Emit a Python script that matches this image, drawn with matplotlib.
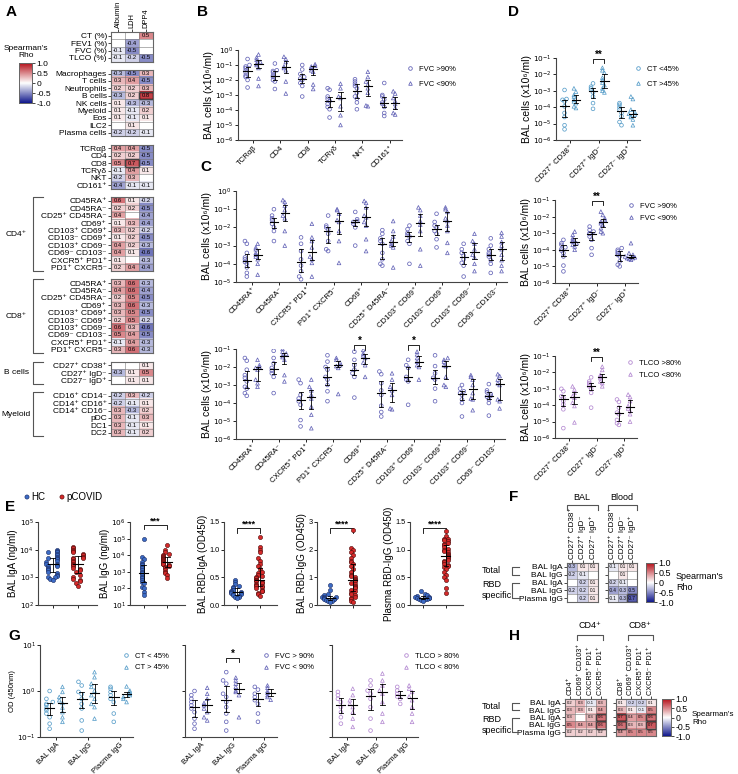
import numpy as np
import matplotlib
matplotlib.use('Agg')
import matplotlib.pyplot as plt
from matplotlib.colors import LinearSegmentedColormap
from matplotlib.patches import Rectangle
from matplotlib.lines import Line2D
from matplotlib.ticker import NullLocator

plt.rcParams['font.family'] = ['Liberation Sans', 'DejaVu Sans']
plt.rcParams['font.size'] = 5.5
plt.rcParams['axes.linewidth'] = 0.7

nan = np.nan

#====================== data ======================
# panel A (columns Albumin, LDH, DPP4)
a_cols = ['Albumin', 'LDH', 'DPP4']
a_clin_rows = ['CT (%)', 'FEV1 (%)', 'FVC (%)', 'TLCO (%)']
a_clin = [[nan, nan, 0.5], [nan, -0.4, nan], [-0.1, -0.5, nan], [-0.1, -0.2, -0.5]]
a_cell_rows = ['Macrophages', 'T cells', 'Neutrophils', 'B cells', 'NK cells', 'Myeloid', 'Eos', 'ILC2', 'Plasma cells']
a_cell = [[-0.3, -0.5, 0.3], [0.3, 0.4, -0.5], [0.2, 0.2, 0.3], [-0.3, 0.2, 0.8], [0.1, -0.3, -0.3],
          [0.1, -0.1, 0.2], [0.1, -0.1, 0.1], [nan, 0.1, nan], [-0.2, -0.2, -0.1]]
a_t_rows = ['TCRαβ', 'CD4', 'CD8', 'TCRγδ', 'NKT', 'CD161⁺']
a_t = [[0.4, 0.4, -0.5], [0.2, 0.2, -0.5], [0.5, 0.7, -0.5], [-0.1, 0.4, 0.1], [-0.2, 0.3, nan], [-0.4, -0.1, -0.1]]
a_sub_rows = ['CD45RA⁺', 'CD45RA⁻', 'CD25⁺ CD45RA⁻', 'CD69⁺', 'CD103⁺ CD69⁺', 'CD103⁻ CD69⁺',
              'CD103⁺ CD69⁻', 'CD69⁻ CD103⁻', 'CXCR5⁺ PD1⁺', 'PD1⁺ CXCR5⁻']
a_cd4 = [[0.6, 0.1, -0.2], [0.2, 0.2, -0.5], [0.4, nan, -0.4], [0.1, 0.3, -0.4], [0.3, 0.2, -0.2],
         [0.1, 0.2, -0.5], [0.4, 0.2, -0.3], [0.4, 0.1, -0.6], [0.1, nan, -0.3], [0.2, 0.4, -0.4]]
a_cd8 = [[0.3, 0.6, -0.3], [0.4, 0.6, -0.4], [0.2, 0.5, -0.5], [0.3, 0.6, -0.3], [0.3, 0.5, -0.5],
         [0.2, 0.5, -0.2], [0.6, 0.3, -0.6], [0.5, 0.4, -0.5], [-0.1, 0.4, -0.3], [0.3, 0.6, -0.3]]
a_b_rows = ['CD27⁺ CD38⁺', 'CD27⁺ IgD⁻', 'CD27⁻ IgD⁺']
a_b = [[nan, nan, 0.1], [-0.3, 0.1, 0.5], [nan, 0.1, 0.1]]
a_my_rows = ['CD16⁺ CD14⁻', 'CD14⁺ CD16⁺', 'CD14⁺ CD16⁻', 'pDC', 'DC1', 'DC2']
a_my = [[-0.2, 0.3, -0.2], [-0.2, -0.1, 0.1], [0.3, -0.3, 0.2], [0.3, -0.1, 0.3], [0.3, -0.1, 0.1], [0.3, -0.1, 0.2]]

# panel B (log10 BAL cells)
b_cats = ['TCRαβ', 'CD4', 'CD8', 'TCRγδ', 'NKT', 'CD161⁺']
b_fvc_hi = [[-0.6, -1.0, -1.1, -1.2, -1.35, -1.5, -1.7, -1.8, -2.0, -2.5],
            [-0.9, -1.35, -1.4, -1.5, -1.7, -1.8, -2.0, -2.1, -2.6],
            [-1.0, -1.3, -1.6, -1.8, -1.9, -2.0, -2.2, -2.4, -3.1],
            [-2.55, -2.65, -3.1, -3.25, -3.4, -3.6, -3.8, -3.95, -4.5],
            [-1.95, -2.1, -2.25, -2.4, -2.55, -2.85, -3.1, -3.25, -3.5, -3.95],
            [-2.2, -3.0, -3.1, -3.3, -3.5, -3.6, -3.8, -4.2, -4.4]]
b_fvc_lo = [[-0.3, -0.5, -0.65, -0.8, -0.9, -1.0, -1.2, -1.9, -2.4],
            [-0.45, -0.6, -0.8, -1.1, -1.2, -1.35, -2.1, -2.9],
            [-0.95, -1.05, -1.1, -1.2, -1.35, -1.45, -2.3, -2.6],
            [-2.25, -2.55, -3.1, -3.2, -3.75, -4.35, -5.0],
            [-1.45, -1.8, -2.1, -2.3, -2.55, -2.85, -3.7, -3.75],
            [-2.75, -2.9, -3.2, -3.4, -3.6, -3.85, -4.2, -4.3]]

# panel C (log10 BAL cells), CD4+ (top) and CD8+ (bottom)
c_cats = ['CD45RA⁺', 'CD45RA⁻', 'CXCR5⁺ PD1⁺', 'PD1⁺ CXCR5⁻', 'CD69⁺', 'CD25⁺ D45RA⁻',
          'CD103⁺ CD69⁺', 'CD103⁻ CD69⁺', 'CD103⁺ CD69⁻', 'CD69⁻ CD103⁻']
c4_hi = [[-2.75, -2.9, -3.4, -3.65, -3.75, -3.9, -4.0, -4.2, -4.5, -4.7],
         [-1.0, -1.35, -1.5, -1.6, -1.8, -2.0, -2.2, -2.75],
         [-2.55, -2.9, -3.3, -3.75, -4.1, -4.4, -4.7, -4.85],
         [-1.35, -1.9, -2.0, -2.1, -2.35, -2.75, -3.2, -3.3],
         [-1.15, -1.55, -1.65, -1.7, -1.8, -2.0, -3.0],
         [-2.15, -2.35, -2.6, -2.75, -2.9, -3.4, -3.75, -4.0, -4.1],
         [-1.9, -2.1, -2.3, -2.4, -2.5, -2.75, -2.9, -4.0],
         [-1.25, -1.7, -1.9, -2.0, -2.2, -2.35, -2.65, -3.1],
         [-2.9, -3.2, -3.4, -3.55, -3.75, -3.95, -4.1, -4.7],
         [-2.6, -3.0, -3.2, -3.4, -3.5, -3.6, -3.8, -4.0, -4.5]]
c4_lo = [[-2.9, -3.1, -3.2, -3.4, -3.5, -3.6, -3.75, -4.0, -4.6],
         [-0.5, -0.6, -0.8, -1.05, -1.35, -1.5, -2.2, -3.0],
         [-1.8, -2.55, -2.75, -3.1, -3.6, -3.75, -3.95, -4.7],
         [-1.0, -1.05, -1.25, -1.6, -1.7, -2.2, -2.75, -3.95],
         [-0.55, -0.65, -0.9, -1.35, -1.45, -1.7, -1.9, -2.65, -3.3],
         [-1.65, -2.2, -2.5, -2.75, -2.9, -3.0, -3.1, -4.2],
         [-0.9, -1.05, -1.35, -1.65, -1.85, -2.2, -3.2, -4.1],
         [-0.9, -1.0, -1.15, -1.5, -1.65, -1.9, -2.2, -2.85, -3.4],
         [-2.35, -2.75, -2.9, -3.2, -3.5, -3.65, -4.0, -4.4],
         [-2.3, -2.5, -2.8, -3.0, -3.2, -3.5, -3.8, -4.1, -4.4]]
c8_hi = [[-1.5, -1.65, -2.15, -2.45, -2.6, -2.8, -3.1, -3.2, -3.45, -3.6],
         [-1.1, -1.5, -1.8, -2.05, -2.2, -2.35, -2.55, -3.45],
         [-2.7, -2.9, -3.55, -3.75, -3.9, -4.1, -4.95, -5.3],
         [-1.35, -1.7, -2.0, -2.15, -2.55, -2.7, -3.0, -3.35, -3.9],
         [-1.15, -1.6, -1.9, -2.15, -2.35, -2.55, -3.7],
         [-2.25, -2.4, -2.9, -3.3, -3.55, -4.15, -4.5, -4.75],
         [-1.6, -1.9, -2.05, -2.55, -2.7, -2.8, -4.1],
         [-1.35, -1.95, -2.35, -2.6, -2.7, -3.2, -3.9],
         [-3.0, -3.2, -3.35, -3.45, -3.55, -3.8, -4.0, -4.75],
         [-2.95, -3.3, -3.4, -3.5, -3.6, -3.65, -3.8, -4.0, -4.7]]
c8_lo = [[-1.6, -1.9, -2.0, -2.05, -2.15, -2.7, -2.9, -3.1],
         [-1.0, -1.15, -1.25, -1.35, -1.45, -1.6, -2.45, -2.8],
         [-2.7, -3.1, -3.3, -3.55, -3.75, -4.2, -4.65, -5.4],
         [-1.5, -1.6, -1.75, -1.9, -1.95, -2.05, -3.5],
         [-1.05, -1.25, -1.35, -1.5, -1.75, -1.9, -2.55],
         [-2.35, -2.7, -3.1, -3.3, -3.55, -4.3, -4.35],
         [-1.15, -1.3, -1.5, -1.7, -1.9, -2.0, -2.7],
         [-1.5, -1.6, -1.7, -1.9, -1.95, -2.55, -3.0, -3.1],
         [-2.45, -2.55, -2.7, -3.0, -3.45, -3.75, -3.8, -4.4],
         [-2.4, -2.5, -2.7, -2.9, -3.0, -3.8, -3.9, -4.3]]

# panel D (log10 BAL cells)
d_cats = ['CD27⁺ CD38⁺', 'CD27⁺ IgD⁻', 'CD27⁻ IgD⁺']
d_ct_lo = [[-2.95, -3.5, -3.55, -3.65, -3.95, -4.35, -4.6, -5.1, -5.35],
           [-2.55, -2.75, -2.85, -2.95, -3.1, -3.35, -3.75, -4.1],
           [-3.75, -3.85, -4.0, -4.15, -4.35, -4.55, -4.9, -5.1]]
d_ct_hi = [[-2.85, -3.05, -3.25, -3.35, -3.55, -3.65, -3.75, -3.95, -4.05],
           [-1.6, -1.75, -1.9, -2.2, -2.35, -2.5, -2.65, -2.85, -3.0, -3.1],
           [-3.35, -3.5, -4.15, -4.3, -4.4, -4.45, -4.55, -4.6, -4.75, -5.1]]
d_fvc_hi = [[-3.4, -3.6, -3.7, -3.85, -3.95, -4.05, -4.2, -4.4, -4.95, -5.3],
            [-2.6, -2.8, -2.9, -3.0, -3.05, -3.2, -3.4, -3.9, -4.3],
            [-3.9, -4.0, -4.1, -4.2, -4.3, -4.4, -4.7, -4.9, -5.0]]
d_fvc_lo = [[-2.9, -3.1, -3.3, -3.4, -3.5, -3.6, -3.7, -3.8, -4.0],
            [-1.7, -1.9, -2.1, -2.2, -2.3, -2.4, -2.5, -2.7, -2.9, -3.0],
            [-3.6, -4.2, -4.3, -4.4, -4.45, -4.5, -4.5, -4.55, -4.6]]
d_tlco_hi = [[-3.0, -3.15, -3.45, -3.55, -3.75, -3.95, -4.25, -5.4],
             [-2.3, -2.55, -2.65, -2.75, -2.85, -3.0, -3.25, -4.15],
             [-3.65, -3.8, -4.15, -4.45, -4.55, -4.9, -5.1, -5.2]]
d_tlco_lo = [[-2.85, -3.05, -3.25, -3.45, -3.55, -3.85, -4.05, -5.05],
             [-1.65, -1.85, -2.15, -2.25, -2.35, -2.55, -2.65, -2.85],
             [-3.35, -3.5, -3.75, -4.05, -4.2, -4.35, -4.55, -5.0]]

# panel E (HC vs pCOVID)
e_iga_hc = [4.0, 3.95, 3.9, 3.9, 3.85, 3.8, 3.75, 3.7, 3.7, 3.65, 3.6, 3.55, 3.5, 3.5, 3.45,
            3.4, 3.4, 3.35, 3.3, 3.25, 3.2, 3.15, 3.1, 3.05, 3.0, 3.0, 2.95, 2.9]
e_iga_pc = [4.1, 4.05, 4.0, 3.95, 3.9, 3.85, 3.8, 3.75, 3.7, 3.7, 3.65, 3.6, 3.55, 3.5,
            3.45, 3.4, 3.35, 3.3, 3.25, 3.2, 3.1, 3.0, 2.95, 2.9, 2.85, 2.8, 2.7]
e_igg_hc = [5.0, 3.9, 3.8, 3.6, 3.5, 3.4, 3.3, 3.2, 3.1, 3.0, 2.9, 2.8, 2.7, 2.6, 2.5, 2.4,
            2.3, 2.1, 2.0, 1.8, 1.6]
e_igg_pc = [4.6, 4.3, 4.2, 4.1, 4.0, 3.95, 3.9, 3.85, 3.8, 3.75, 3.7, 3.65, 3.6, 3.55, 3.5,
            3.45, 3.4, 3.35, 3.3, 3.2, 3.1, 3.0, 2.9, 2.8, 2.6]
e_rbda_hc = [0.45, 0.42, 0.38, 0.35, 0.32, 0.3, 0.28, 0.27, 0.25, 0.24, 0.23, 0.22, 0.21,
             0.2, 0.19, 0.18, 0.17, 0.15, 0.14, 0.12]
e_rbda_pc = [1.22, 1.05, 1.0, 0.95, 0.85, 0.8, 0.75, 0.7, 0.65, 0.6, 0.58, 0.55, 0.52, 0.5,
             0.48, 0.46, 0.45, 0.43, 0.42, 0.4, 0.38, 0.36, 0.35, 0.34, 0.32, 0.3, 0.28,
             0.26, 0.25, 0.22, 0.2, 0.16]
e_rbdg_hc = [0.72, 0.55, 0.4, 0.35, 0.3, 0.3, 0.28, 0.27, 0.25, 0.23, 0.22, 0.2, 0.18,
             0.16, 0.15, 0.12]
e_rbdg_pc = [2.72, 2.05, 2.0, 1.9, 1.8, 1.7, 1.6, 1.55, 1.5, 1.4, 1.3, 1.2, 1.1, 1.05, 1.0,
             0.95, 0.9, 0.85, 0.8, 0.75, 0.7, 0.65, 0.6, 0.55, 0.5, 0.45, 0.4, 0.35, 0.3,
             0.25, 0.2, 0.15, 0.1]
e_prbd_hc = [0.25, 0.2, 0.18, 0.16, 0.15, 0.14, 0.13, 0.12, 0.12, 0.11, 0.1, 0.1, 0.09, 0.08]
e_prbd_pc = [1.33, 1.25, 1.2, 1.2, 1.18, 1.15, 1.12, 1.1, 1.08, 1.05, 1.02, 1.0, 0.98, 0.95,
             0.92, 0.9, 0.88, 0.86, 0.85, 0.82, 0.8, 0.78, 0.75, 0.72, 0.7, 0.68, 0.65,
             0.6, 0.55, 0.5, 0.45, 0.3, 0.22]

# panel F / H heatmaps
f_rows = ['BAL IgA', 'BAL IgG', 'BAL IgA', 'BAL IgG', 'Plasma IgG']
f_cols = ['CD27⁺ CD38⁺', 'CD27⁺ IgD⁻', 'CD27⁻ IgD⁺']
f_bal = [[-0.3, 0.1, 0.1], [-0.2, -0.1, nan], [nan, -0.2, 0.1], [-0.2, -0.2, 0.1], [nan, -0.2, 0.1]]
f_blood = [[-0.1, 0.1, 0.1], [nan, 0.1, nan], [-0.2, -0.1, nan], [-0.4, -0.3, -0.5], [-0.1, -0.3, -0.7]]
h_cols4 = ['CD4⁺', 'CD69⁺ CD103⁺', 'CXCR5⁺ PD1⁺', 'CXCR5⁻ PD1⁺']
h_cols8 = ['CD8⁺', 'CD69⁺ CD103⁺', 'CXCR5⁺ PD1⁺', 'CXCR5⁻ PD1⁺']
h_cd4 = [[0.2, 0.3, -0.1, 0.3], [0.3, 0.3, 0.1, 0.4], [0.3, nan, 0.3, 0.6], [0.5, 0.4, 0.4, 0.6], [0.2, 0.2, 0.2, 0.2]]
h_cd8 = [[0.1, -0.2, -0.2, 0.1], [0.3, 0.1, -0.1, 0.5], [0.7, 0.4, 0.5, 0.6], [0.6, 0.3, 0.3, 0.7], [0.4, 0.5, 0.5, 0.5]]

# panel G (log10 OD450)
g_cats = ['BAL IgA', 'BAL IgG', 'Plasma IgG']
g_ct_lo = [[0.0, -0.17, -0.24, -0.28, -0.31, -0.38, -0.42, -0.49, -0.57, -0.71, -0.82],
           [0.2, 0.12, -0.02, -0.07, -0.17, -0.28, -0.38, -0.64, -0.86],
           [0.09, 0.05, -0.02, -0.09, -0.17, -0.24, -0.49, -0.67]]
g_ct_hi = [[0.09, -0.02, -0.13, -0.2, -0.26, -0.36, -0.46, -0.57, -0.67],
           [0.41, 0.3, 0.16, 0.09, 0.01, -0.09, -0.17, -0.28, -0.35, -0.6],
           [0.1, 0.01, -0.02, -0.06, -0.09, -0.13, -0.17, -0.24]]
g_fvc_hi = [[0.0, -0.09, -0.17, -0.24, -0.31, -0.38, -0.46, -0.6, -0.71, -0.82],
            [0.41, 0.23, 0.16, -0.06, -0.13, -0.24, -0.35, -0.49, -0.67, -0.86],
            [0.09, 0.03, -0.06, -0.13, -0.2, -0.28, -0.49, -0.67]]
g_fvc_lo = [[0.07, -0.06, -0.17, -0.26, -0.31, -0.38, -0.46, -0.57, -0.64],
            [0.29, 0.23, 0.16, 0.09, 0.01, -0.02, -0.09, -0.57],
            [0.12, 0.07, 0.0, -0.04, -0.09, -0.13, -0.19]]
g_tlco_hi = [[-0.02, -0.09, -0.17, -0.24, -0.35, -0.46, -0.57, -0.71],
             [0.23, 0.12, 0.01, -0.06, -0.17, -0.35, -0.6, -0.86],
             [0.09, 0.01, -0.06, -0.12, -0.17, -0.28]]
g_tlco_lo = [[0.05, -0.09, -0.2, -0.28, -0.35, -0.46, -0.6, -0.78],
             [0.38, 0.23, 0.12, 0.01, -0.06, -0.24, -0.49, -0.67],
             [0.12, 0.05, -0.02, -0.12, -0.2, -0.35, -0.49, -0.67]]

c_ct = '#5a9fca'
c_fvc = '#6666b8'
c_tlco = '#b58bd2'
c_hc = '#3c6cc6'
c_pc = '#d62a2a'

#==================================================
W, H = 738, 774
fig = plt.figure(figsize=(W / 100, H / 100), dpi=100)
cmap = LinearSegmentedColormap.from_list('rho', ['#10188c', '#ffffff', '#b5121b'])
cmap.set_bad('white')


def box(x0, y0, x1, y1):
    return fig.add_axes([x0 / W, 1 - y1 / H, (x1 - x0) / W, (y1 - y0) / H])


def ftext(x, y, s, **kw):
    fig.text(x / W, 1 - y / H, s, **kw)


def fline(xs, ys, **kw):
    fig.add_artist(Line2D([x / W for x in xs], [1 - y / H for y in ys], **kw))


def heat(x0, y0, x1, y1, vals, rows, cols=None, bold=(), fs=4.2, rfs=6.0, cfs=None):
    ax = box(x0, y0, x1, y1)
    v = np.array(vals, float)
    ax.imshow(np.ma.masked_invalid(v), cmap=cmap, vmin=-1, vmax=1, aspect='auto',
              interpolation='nearest')
    n, m = v.shape
    for i in range(n):
        for j in range(m):
            if not np.isnan(v[i, j]):
                ax.text(j, i, f'{v[i, j]:.1f}', ha='center', va='center', fontsize=fs)
    ax.set_xticks(np.arange(-0.5, m), minor=True)
    ax.set_yticks(np.arange(-0.5, n), minor=True)
    ax.grid(which='minor', color='#777777', lw=0.4)
    ax.tick_params(which='minor', length=0)
    ax.set_yticks(range(n))
    ax.set_yticklabels(rows, fontsize=rfs)
    if cols:
        ax.xaxis.tick_top()
        ax.set_xticks(range(m))
        ax.set_xticklabels(cols, rotation=90, fontsize=cfs or rfs)
    else:
        ax.set_xticks([])
    ax.tick_params(length=2, width=0.5, pad=1)
    for (i, j) in bold:
        ax.add_patch(Rectangle((j - 0.5, i - 0.5), 1, 1, fill=False, ec='k', lw=1.0))
    for s in ax.spines.values():
        s.set_color('#666666')
        s.set_linewidth(0.8)
    return ax


def cbar(x0, y0, x1, y1, fs=6):
    ax = box(x0, y0, x1, y1)
    ax.imshow(np.linspace(-1, 1, 200)[:, None], cmap=cmap, vmin=-1, vmax=1, aspect='auto',
              origin='lower', extent=[0, 1, -1, 1])
    ax.set_xticks([])
    ax.yaxis.tick_right()
    ax.set_yticks([1, 0.5, 0, -0.5, -1])
    ax.set_yticklabels(['1.0', '0.5', '0', '-0.5', '-1.0'], fontsize=fs)
    ax.tick_params(length=2, width=0.5, pad=1)
    for s in ax.spines.values():
        s.set_color('#666666')
    return ax


def spread(v, d, thr):
    v = np.asarray(v, float)
    off = np.zeros(len(v))
    placed = []
    for i in np.argsort(v):
        k = sum(1 for j in placed if abs(v[j] - v[i]) < thr)
        off[i] = ((k + 1) // 2) * d * (-1 if k % 2 else 1)
        placed.append(i)
    return off


def strip(ax, xc, vals, color, marker, log=True, d=0.07, thr=0.2, s=7, filled=False, ec=None, w=0.15):
    v = np.asarray(vals, float)
    off = spread(v, d, thr)
    y = 10 ** v if log else v
    if filled:
        ax.scatter(xc + off, y, s=s, marker=marker, c=color, edgecolors=ec, linewidths=0.4, zorder=3)
    else:
        ax.scatter(xc + off, y, s=s, marker=marker, facecolors='none', edgecolors=color,
                   linewidths=0.55, zorder=3)
    q1, m, q3 = np.percentile(v, [25, 50, 75])
    if log:
        q1, m, q3 = 10 ** q1, 10 ** m, 10 ** q3
    ax.plot([xc - w, xc + w], [m, m], color='k', lw=0.8, zorder=4)
    ax.plot([xc, xc], [q1, q3], color='k', lw=0.6, zorder=4)
    for q in (q1, q3):
        ax.plot([xc - w / 2, xc + w / 2], [q, q], color='k', lw=0.6, zorder=4)


def style(ax):
    for s in ['top', 'right']:
        ax.spines[s].set_visible(False)
    for s in ['left', 'bottom']:
        ax.spines[s].set_color('#444444')
        ax.spines[s].set_linewidth(0.8)
    ax.tick_params(length=2, width=0.6, pad=1, labelsize=5.3)


def logy(ax, lo, hi, labels=True):
    ax.set_yscale('log')
    ax.set_ylim(10.0 ** lo, 10.0 ** hi)
    ax.set_yticks([10.0 ** k for k in range(lo, hi + 1)])
    if labels:
        ax.set_yticklabels([f'$10^{{{k}}}$' for k in range(lo, hi + 1)])
    else:
        ax.set_yticklabels([])
    ax.yaxis.set_minor_locator(NullLocator())


def sig(ax, x0, x1, y, h, txt, log=True, fs=7):
    if log:
        ys = [10 ** (y - h), 10 ** y, 10 ** y, 10 ** (y - h)]
        yt = 10 ** (y - h * 0.2)
    else:
        ys = [y - h, y, y, y - h]
        yt = y - h * 0.2
    ax.plot([x0, x0, x1, x1], ys, color='k', lw=0.6, clip_on=False)
    ax.text((x0 + x1) / 2, yt, txt, ha='center', va='bottom', fontsize=fs, fontweight='bold')


def leg(x, y, labels, color, fs=5.5, sp=1.0):
    hs = [Line2D([], [], ls='none', marker=m, mfc='none', mec=color, ms=2.6, mew=0.6) for m in ('o', '^')]
    fig.legend(hs, labels, loc='upper left', bbox_to_anchor=(x / W, 1 - y / H), frameon=False,
               fontsize=fs, handletextpad=0.5, labelspacing=sp, borderpad=0, handlelength=1.2)


def pair_panel(ax, cats, g1, g2, color, lo, hi, thr=0.2, d=0.07, ylab=True, xl=(-0.6, None)):
    for i, (a, b) in enumerate(zip(g1, g2)):
        strip(ax, i - 0.2, a, color, 'o', d=d, thr=thr)
        strip(ax, i + 0.2, b, color, '^', d=d, thr=thr)
    style(ax)
    logy(ax, lo, hi, labels=ylab)
    ax.set_xlim(xl[0], len(cats) - 0.6 if xl[1] is None else xl[1])
    ax.set_xticks(range(len(cats)))
    ax.set_xticklabels(cats, rotation=45, ha='right', rotation_mode='anchor', fontsize=5.6)


#====================== A ======================
blocks = [(a_clin, a_clin_rows, []), (a_cell, a_cell_rows, [(3, 2)]), (a_t, a_t_rows, [(2, 1)]),
          (a_cd4, a_sub_rows, []), (a_cd8, a_sub_rows, []), (a_b, a_b_rows, []), (a_my, a_my_rows, [])]
rh, gap = 7.4, 8.2
y = 32
ypos = []
for k, (vals, rows, bold) in enumerate(blocks):
    n = len(rows)
    heat(111, y, 153, y + n * rh, vals, rows, cols=a_cols if k == 0 else None, bold=bold, cfs=5.4)
    ypos.append((y, y + n * rh))
    y += n * rh + gap

for (y0, y1), name in zip(ypos[3:], ['CD4⁺', 'CD8⁺', 'B cells', 'Myeloid']):
    fline([43, 33, 33, 43], [y0, y0, y1, y1], color='#555555', lw=0.8)
    ftext(16, (y0 + y1) / 2, name, ha='center', va='center', fontsize=6)

cbar(19, 63, 32, 103)
ftext(26, 52, "Spearman's\nRho", ha='center', va='center', fontsize=6, linespacing=1.1)
ftext(6, 12, 'A', fontsize=11, fontweight='bold', va='center')

#====================== B ======================
ax = box(238, 50, 402, 140)
pair_panel(ax, b_cats, b_fvc_hi, b_fvc_lo, c_fvc, -6, 0, xl=(-0.55, 5.45))
ax.set_ylabel('BAL cells (x10⁶/ml)', fontsize=7.5, labelpad=1)
leg(402, 62, ['FVC >90%', 'FVC <90%'], c_fvc)
ftext(197, 12, 'B', fontsize=11, fontweight='bold', va='center')

#====================== C ======================
ax = box(236, 191, 507, 282)
pair_panel(ax, c_cats, c4_hi, c4_lo, c_fvc, -5, 0)
ax.set_ylabel('BAL cells (x10⁶/ml)', fontsize=7.5, labelpad=1)

ax = box(236, 349, 505, 439)
pair_panel(ax, c_cats, c8_hi, c8_lo, c_fvc, -6, -1)
ax.set_ylabel('BAL cells (x10⁶/ml)', fontsize=7.5, labelpad=1)
sig(ax, 3.8, 4.2, -0.75, 0.3, '*')
sig(ax, 5.8, 6.2, -0.75, 0.3, '*')
ftext(200, 167, 'C', fontsize=11, fontweight='bold', va='center')

#====================== D ======================
ax = box(556, 58, 640, 140)
pair_panel(ax, d_cats, d_ct_lo, d_ct_hi, c_ct, -6, -1, xl=(-0.5, 2.45))
ax.set_ylabel('BAL cells (x10⁶/ml)', fontsize=7.5, labelpad=1)
sig(ax, 0.8, 1.2, -1.05, 0.25, '**')
leg(630, 62, ['CT <45%', 'CT >45%'], c_ct)

ax = box(555, 200, 638, 283)
pair_panel(ax, d_cats, d_fvc_hi, d_fvc_lo, c_fvc, -6, -1, xl=(-0.5, 2.45))
ax.set_ylabel('BAL cells (x10⁶/ml)', fontsize=7.5, labelpad=1)
sig(ax, 0.8, 1.2, -1.05, 0.25, '**')
leg(623, 199, ['FVC >90%', 'FVC <90%'], c_fvc, sp=0.6)

ax = box(555, 356, 637, 438)
pair_panel(ax, d_cats, d_tlco_hi, d_tlco_lo, c_tlco, -6, -1, xl=(-0.5, 2.45))
ax.set_ylabel('BAL cells (x10⁶/ml)', fontsize=7.5, labelpad=1)
sig(ax, 0.8, 1.2, -1.05, 0.25, '**')
leg(622, 356, ['TLCO >80%', 'TLCO <80%'], c_tlco, sp=0.6)
ftext(508, 12, 'D', fontsize=11, fontweight='bold', va='center')

#====================== E ======================
e_sets = [(38, 97, e_iga_hc, e_iga_pc, True, (2, 5), 'BAL IgA (ng/ml)', 0.16, None),
          (130, 185, e_igg_hc, e_igg_pc, True, (1, 6), 'BAL IgG (ng/ml)', 0.16, '***'),
          (224, 277, e_rbda_hc, e_rbda_pc, False, (0, 1.5), 'BAL RBD-IgA (OD450)', 0.05, '****'),
          (317, 370, e_rbdg_hc, e_rbdg_pc, False, (0, 3), 'BAL RBD-IgG (OD450)', 0.1, '****'),
          (410, 463, e_prbd_hc, e_prbd_pc, False, (0, 1.5), 'Plasma RBD-IgG (OD450)', 0.05, '****')]
for x0, x1, hc, pc, lg, (lo, hi), lab, thr, st in e_sets:
    ax = box(x0, 522, x1, 605)
    strip(ax, 0, hc, c_hc, 'o', log=lg, d=0.09, thr=thr, s=9, filled=True, ec='#1b2a60', w=0.2)
    strip(ax, 1, pc, c_pc, 'o', log=lg, d=0.09, thr=thr, s=9, filled=True, ec='#4a0a0a', w=0.2)
    style(ax)
    ax.set_xlim(-0.58, 1.75)
    ax.set_xticks([0, 1])
    ax.set_xticklabels([])
    if lg:
        logy(ax, lo, hi)
    else:
        ax.set_ylim(lo, hi)
        ax.set_yticks(np.arange(lo, hi + 0.01, 0.5 if hi < 2 else 1))
        ax.set_yticklabels([f'{t:.1f}' if hi < 2 else f'{t:.0f}' for t in ax.get_yticks()])
    ax.set_ylabel(lab, fontsize=7, labelpad=1)
    if st:
        if lg:
            sig(ax, 0, 1, hi - 0.2, 0.2, st, log=True, fs=6.5)
        else:
            sig(ax, 0, 1, hi * 0.93, hi * 0.06, st, log=False, fs=6.5)

ftext(5, 507, 'E', fontsize=11, fontweight='bold', va='center')
ax_l = fig.add_axes([0, 0, 1, 1], facecolor='none')
ax_l.set_axis_off()
ax_l.set_xlim(0, W)
ax_l.set_ylim(H, 0)
ax_l.scatter([27, 62], [497, 497], s=9, c=[c_hc, c_pc], edgecolors=['#1b2a60', '#4a0a0a'], linewidths=0.4)
ax_l.text(31, 497, 'HC', va='center', fontsize=7)
ax_l.text(66, 497, 'pCOVID', va='center', fontsize=7)

#====================== F ======================
heat(567, 563, 598, 602, f_bal, f_rows, cols=f_cols, fs=3.3, rfs=6, cfs=5.8)
axb = heat(608, 563, 637, 602, f_blood, f_rows, cols=f_cols, bold=[(4, 2)], fs=3.3, rfs=6, cfs=5.8)
axb.set_yticklabels([])
cbar(646, 563, 654, 602, fs=6.5)
ftext(676, 582, "Spearman's\nRho", ha='left', va='center', fontsize=6.5)
ftext(582, 497, 'BAL', ha='center', va='center', fontsize=6.5)
ftext(622, 497, 'Blood', ha='center', va='center', fontsize=6.5)
fline([567, 567, 598, 598], [510, 505, 505, 510], color='#555555', lw=0.8)
fline([608, 608, 637, 637], [510, 505, 505, 510], color='#555555', lw=0.8)
for yy in (563, 699):
    r = 39 / 5 if yy == 563 else 37 / 5
    fline([519, 512, 512, 519], [yy + 0.5 * r, yy + 0.5 * r, yy + 1.5 * r, yy + 1.5 * r], color='#555555', lw=0.8)
    fline([519, 512, 512, 519], [yy + 2.5 * r, yy + 2.5 * r, yy + 4.5 * r, yy + 4.5 * r], color='#555555', lw=0.8)
    ftext(482, yy + r, 'Total', va='center', fontsize=6.5)
    ftext(482, yy + 3.5 * r, 'RBD\nspecific', va='center', fontsize=6.5, linespacing=1.3)
ftext(509, 497, 'F', fontsize=11, fontweight='bold', va='center')

#====================== H ======================
heat(565, 699, 606, 736, h_cd4, f_rows, cols=h_cols4, bold=[(2, 3), (3, 3)], fs=3.0, rfs=6, cfs=5.2)
axh = heat(616, 699, 656, 736, h_cd8, f_rows, cols=h_cols8, bold=[(2, 0), (3, 0), (2, 3), (3, 3)],
           fs=3.0, rfs=6, cfs=5.2)
axh.set_yticklabels([])
cbar(662, 699, 671, 736, fs=6.3)
ftext(692, 718, "Spearman's\nRho", ha='left', va='center', fontsize=5.8)
ftext(590, 626, 'CD4⁺', ha='center', va='center', fontsize=6.5)
ftext(640, 626, 'CD8⁺', ha='center', va='center', fontsize=6.5)
fline([577, 577, 603, 603], [640, 635, 635, 640], color='#555555', lw=0.8)
fline([628, 628, 653, 653], [640, 635, 635, 640], color='#555555', lw=0.8)
ftext(509, 636, 'H', fontsize=11, fontweight='bold', va='center')

#====================== G ======================
g_sets = [(40, 133, g_ct_lo, g_ct_hi, c_ct, ['CT < 45%', 'CT > 45%'], 118),
          (185, 277, g_fvc_hi, g_fvc_lo, c_fvc, ['FVC > 90%', 'FVC < 90%'], 258),
          (332, 418, g_tlco_hi, g_tlco_lo, c_tlco, ['TLCO > 80%', 'TLCO < 80%'], 398)]
for k, (x0, x1, g1, g2, col, labs, lx) in enumerate(g_sets):
    ax = box(x0, 645, x1, 737)
    pair_panel(ax, g_cats, g1, g2, col, -1, 1, thr=0.09, d=0.1, ylab=(k == 0), xl=(-0.5, 2.4))
    if k == 0:
        ax.set_ylabel('OD (450nm)', fontsize=5.5, labelpad=1)
    if k == 1:
        sig(ax, 0.8, 1.2, 0.72, 0.1, '*')
    leg(lx, 649, labs, col, sp=0.5)
ftext(8, 636, 'G', fontsize=11, fontweight='bold', va='center')

fig.savefig('out.png', dpi=100)
